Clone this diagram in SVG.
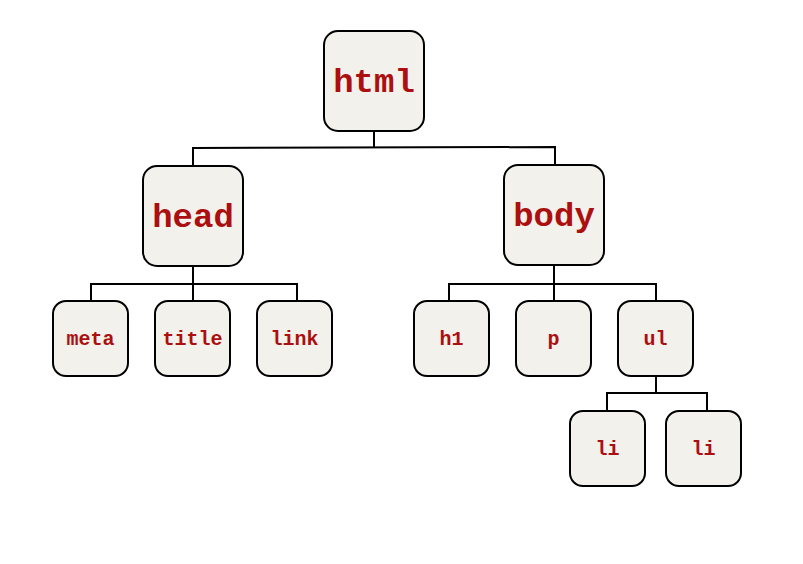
<svg xmlns="http://www.w3.org/2000/svg" width="803" height="564" viewBox="0 0 803 564">
<style>
.n rect{fill:#f2f1ec;stroke:#000;stroke-width:2}
.n text{font-family:"Liberation Mono","Courier New",monospace;font-weight:bold;fill:#ab0f0f;text-anchor:middle}
.big text{font-size:34px}
.small text{font-size:20px}
#connectors path{fill:none;stroke:#000;stroke-width:2}
</style>
<rect width="803" height="564" fill="#fff"/>
<g id="connectors">
<path d="M374 131 V147.5 M193 166 V148 L555 147 V165"/>
<path d="M193 266 V284 M91 301 V284 L297 284 V301 M193 284 V301"/>
<path d="M554 265 V284 M449 301 V284 L656 284 V301 M554 284 V301"/>
<path d="M656 376 V393 M607 411 V393 H707 V411"/>
</g>
<g id="html" class="n big"><rect x="324" y="31" width="100" height="100" rx="14"/><text x="374" y="92">html</text></g>
<g id="head" class="n big"><rect x="143" y="166" width="100" height="100" rx="14"/><text x="193" y="227">head</text></g>
<g id="body" class="n big"><rect x="504" y="165" width="100" height="100" rx="14"/><text x="554" y="226">body</text></g>
<g id="meta" class="n small"><rect x="53" y="301" width="75" height="75" rx="13"/><text x="90.5" y="344.5">meta</text></g>
<g id="title" class="n small"><rect x="155" y="301" width="75" height="75" rx="13"/><text x="192.5" y="344.5">title</text></g>
<g id="link" class="n small"><rect x="257" y="301" width="75" height="75" rx="13"/><text x="294.5" y="344.5">link</text></g>
<g id="h1" class="n small"><rect x="414" y="301" width="75" height="75" rx="13"/><text x="451.5" y="344.5">h1</text></g>
<g id="p" class="n small"><rect x="516" y="301" width="75" height="75" rx="13"/><text x="553.5" y="344.5">p</text></g>
<g id="ul" class="n small"><rect x="618" y="301" width="75" height="75" rx="13"/><text x="655.5" y="344.5">ul</text></g>
<g id="li1" class="n small"><rect x="570" y="411" width="75" height="75" rx="13"/><text x="607.5" y="454.5">li</text></g>
<g id="li2" class="n small"><rect x="666" y="411" width="75" height="75" rx="13"/><text x="703.5" y="454.5">li</text></g>
</svg>
